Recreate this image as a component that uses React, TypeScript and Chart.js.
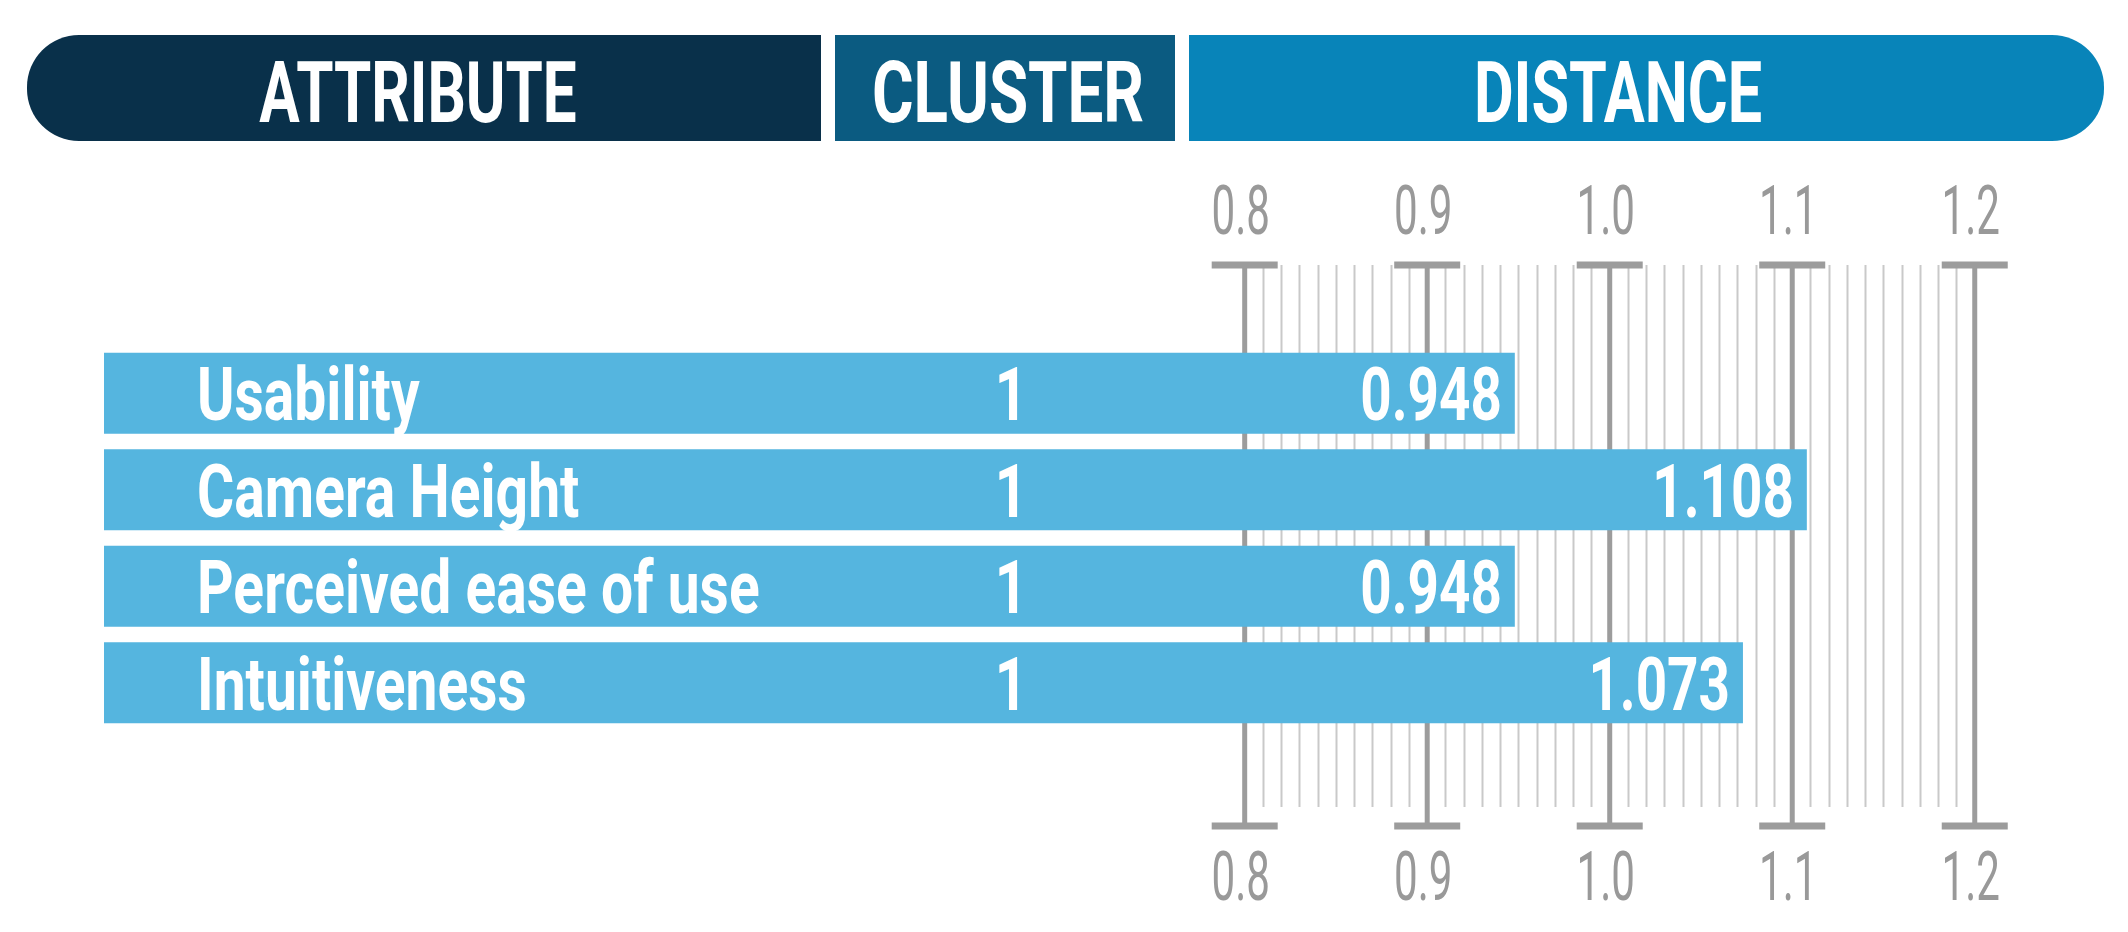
import React, { useEffect, useRef } from "react";
import { Chart, registerables } from "chart.js";

Chart.register(...registerables);

const ATTRIBUTES = ["Usability", "Camera Height", "Perceived ease of use", "Intuitiveness"];
const CLUSTERS = [1, 1, 1, 1];
const DISTANCES = [0.948, 1.108, 0.948, 1.073];
const TICKS = [0.8, 0.9, 1.0, 1.1, 1.2];
const HEADERS = ["ATTRIBUTE", "CLUSTER", "DISTANCE"];

const W = 2128;
const H = 932;
const FONT = "Roboto, 'Liberation Sans', sans-serif";

function drawText(
  ctx: CanvasRenderingContext2D,
  text: string,
  x: number,
  y: number,
  align: "left" | "center" | "right",
  sx: number,
  font: string,
  color: string
) {
  ctx.save();
  ctx.font = font;
  ctx.fillStyle = color;
  ctx.textAlign = "left";
  ctx.textBaseline = "alphabetic";
  const w = ctx.measureText(text).width * sx;
  const x0 = align === "left" ? x : align === "center" ? x - w / 2 : x - w;
  ctx.translate(x0, y);
  ctx.scale(sx, 1);
  ctx.fillText(text, 0, 0);
  ctx.restore();
}

function roundedRect(
  ctx: CanvasRenderingContext2D,
  x: number,
  y: number,
  w: number,
  h: number,
  rl: number,
  rr: number,
  color: string
) {
  ctx.save();
  ctx.fillStyle = color;
  ctx.beginPath();
  ctx.roundRect(x, y, w, h, [rl, rr, rr, rl]);
  ctx.fill();
  ctx.restore();
}

const rulerPlugin = {
  id: "ruler",
  beforeDatasetsDraw(chart: any) {
    const ctx: CanvasRenderingContext2D = chart.ctx;
    const xs = chart.scales.x;
    const topCap = 265;
    const botCap = 826;
    // minor lines every 0.01
    ctx.save();
    ctx.strokeStyle = "#c9c9c9";
    ctx.lineWidth = 2;
    const lo = Math.round(TICKS[0] * 100);
    const hi = Math.round(TICKS[TICKS.length - 1] * 100);
    for (let i = lo; i <= hi; i++) {
      if (i % 10 === 0) continue;
      const px = Math.round(xs.getPixelForValue(i / 100)) + 0.5;
      ctx.beginPath();
      ctx.moveTo(px, topCap);
      ctx.lineTo(px, 807);
      ctx.stroke();
    }
    // major lines with caps
    ctx.strokeStyle = "#9c9c9c";
    for (const t of TICKS) {
      const px = xs.getPixelForValue(t);
      ctx.lineWidth = 5;
      ctx.beginPath();
      ctx.moveTo(px, topCap);
      ctx.lineTo(px, botCap);
      ctx.stroke();
      ctx.lineWidth = 7;
      ctx.beginPath();
      ctx.moveTo(px - 33, topCap);
      ctx.lineTo(px + 33, topCap);
      ctx.moveTo(px - 33, botCap);
      ctx.lineTo(px + 33, botCap);
      ctx.stroke();
      const label = t.toFixed(1);
      drawText(ctx, label, px - 4, 234, "center", 0.62, `400 68px ${FONT}`, "#999999");
      drawText(ctx, label, px - 4, 900, "center", 0.62, `400 68px ${FONT}`, "#999999");
    }
    ctx.restore();
  },
  afterDatasetsDraw(chart: any) {
    const ctx: CanvasRenderingContext2D = chart.ctx;
    // header
    const hy = 35;
    const hh = 106;
    roundedRect(ctx, 27, hy, 794, hh, 52, 0, "#09304a");
    roundedRect(ctx, 835, hy, 340, hh, 0, 0, "#0b5b81");
    roundedRect(ctx, 1189, hy, 915, hh, 0, 52, "#0884b9");
    const hfont = `700 86px ${FONT}`;
    drawText(ctx, HEADERS[0], 418, 122, "center", 0.7, hfont, "#ffffff");
    drawText(ctx, HEADERS[1], 1008, 122, "center", 0.74, hfont, "#ffffff");
    drawText(ctx, HEADERS[2], 1618, 122, "center", 0.71, hfont, "#ffffff");

    const meta = chart.getDatasetMeta(0);
    const lfont = `700 74px ${FONT}`;
    meta.data.forEach((bar: any, i: number) => {
      const base = bar.y + 27;
      drawText(ctx, ATTRIBUTES[i], 197, base, "left", 0.77, lfont, "#ffffff");
      drawText(ctx, String(CLUSTERS[i]), 1011, base, "center", 0.77, lfont, "#ffffff");
      drawText(ctx, DISTANCES[i].toFixed(3), bar.x - 13, base, "right", 0.74, lfont, "#ffffff");
    });
  },
};

export default function App() {
  const ref = useRef<HTMLCanvasElement | null>(null);
  useEffect(() => {
    document.body.style.margin = "0";
    const canvas = ref.current!;
    const chart = new Chart(canvas, {
      type: "bar",
      data: {
        labels: ATTRIBUTES,
        datasets: [
          {
            data: DISTANCES,
            backgroundColor: "#55b5df",
            borderWidth: 0,
            barPercentage: 0.84,
            categoryPercentage: 1,
          },
        ],
      },
      options: {
        indexAxis: "y",
        responsive: false,
        animation: false,
        devicePixelRatio: 1,
        layout: { padding: { left: 104, right: 62, top: 345, bottom: 201 } },
        plugins: { legend: { display: false }, tooltip: { enabled: false } },
        scales: {
          x: { type: "linear", min: 0.175, max: 1.25, display: false },
          y: { type: "category", display: false },
        },
      },
      plugins: [rulerPlugin],
    });
    return () => chart.destroy();
  }, []);
  return (
    <div style={{ width: W, height: H, background: "#ffffff" }}>
      <canvas ref={ref} width={W} height={H} style={{ display: "block" }} />
    </div>
  );
}
